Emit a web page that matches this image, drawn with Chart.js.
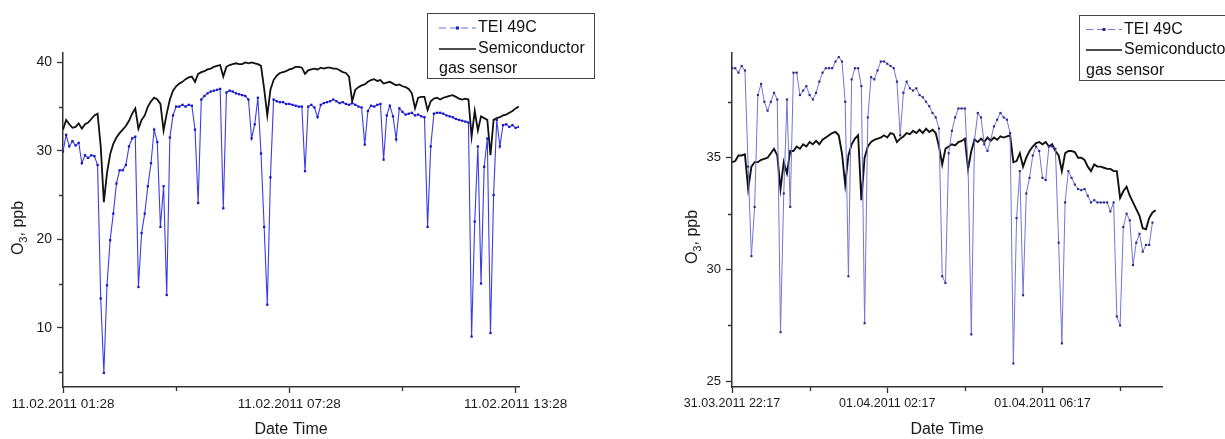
<!DOCTYPE html>
<html>
<head>
<script src="https://cdn.jsdelivr.net/npm/chart.js"></script>
<style>
  body { margin: 0; background: #fff; }
  .wrap { position: absolute; top: 0; }
</style>
</head>
<body>
<div class="wrap" style="left:0"><canvas id="left" width="620" height="439"></canvas></div>
<div class="wrap" style="left:620px"><canvas id="right" width="605" height="439"></canvas></div>
<script>
// readings every 5 minutes
const stepH = 5 / 60;

// 11.02.2011, start 01:28
const leftTei = [
  29.9, 31.8, 30.5, 31.1, 30.6, 30.9, 28.6, 29.5, 29.2, 29.5,
  29.4, 28.4, 13.3, 4.9, 14.8, 19.9, 22.9, 26.3, 27.8, 27.8,
  28.4, 30.5, 31.4, 31.6, 14.6, 20.7, 22.9, 26.0, 28.6, 32.4,
  31.0, 21.4, 26.0, 13.7, 31.5, 34.0, 35.0, 35.0, 35.2, 35.0,
  35.2, 35.1, 32.4, 24.1, 35.8, 36.2, 36.5, 36.7, 36.8, 36.9,
  37.0, 23.5, 36.6, 36.8, 36.7, 36.5, 36.4, 36.3, 36.2, 35.8,
  31.4, 33.0, 36.0, 29.7, 21.4, 12.6, 27.0, 35.8, 35.6, 35.5,
  35.5, 35.3, 35.3, 35.2, 35.1, 35.0, 35.0, 27.7, 35.0, 35.2,
  34.9, 33.8, 35.2, 35.4, 35.5, 35.6, 35.8, 35.6, 35.4, 35.5,
  35.3, 35.2, 35.4, 35.2, 35.0, 34.9, 30.7, 34.5, 35.1, 35.0,
  35.2, 35.3, 29.0, 34.0, 35.1, 33.9, 31.3, 34.8, 34.4, 34.1,
  34.2, 34.3, 34.0, 34.1, 33.9, 33.8, 21.4, 30.5, 34.2, 34.3,
  34.3, 34.2, 34.0, 33.9, 33.8, 33.6, 33.5, 33.4, 33.3, 33.2,
  9.0, 22.0, 30.5, 15.0, 28.2, 31.4, 9.4, 25.0, 33.5, 30.5,
  32.9, 33.0, 32.7, 32.9, 32.6, 32.7
];
const leftSemi = [
  32.4, 33.5, 33.0, 32.6, 32.7, 33.1, 32.5, 33.0, 33.2, 33.6,
  34.0, 34.2, 30.5, 24.2, 27.5, 29.6, 30.8, 31.5, 32.0, 32.4,
  32.8, 33.4, 34.2, 34.8, 32.5, 33.5, 34.0, 35.0, 35.6, 36.0,
  35.8, 35.3, 32.3, 34.2, 35.8, 36.8, 37.3, 37.6, 37.8, 38.1,
  38.3, 38.4, 37.8, 38.7, 38.9, 39.0, 39.2, 39.3, 39.5, 39.6,
  39.7, 38.4, 39.5, 39.7, 39.8, 39.9, 39.8, 39.8, 40.0, 39.9,
  40.0, 39.9, 39.8, 39.6, 37.0, 34.0, 36.9, 38.0, 38.5, 38.8,
  38.9, 39.0, 39.2, 39.3, 39.5, 39.5, 39.4, 38.7, 39.1, 39.2,
  39.3, 39.2, 39.4, 39.3, 39.4, 39.4, 39.3, 39.3, 39.1, 38.9,
  38.8, 38.4, 35.6, 36.9, 37.2, 37.4, 37.5, 37.8, 38.0, 38.1,
  37.9, 38.0, 37.6, 37.7, 37.8, 37.6, 37.4, 37.5, 37.3, 37.2,
  37.0, 36.5, 34.8, 36.0, 36.1, 36.1, 34.6, 35.6, 35.9, 36.0,
  35.8, 36.0, 36.1, 36.2, 36.3, 36.1, 35.9, 35.8, 35.9, 35.8,
  31.6, 34.5, 32.3, 33.9, 33.7, 33.5, 29.5, 33.5, 33.7, 33.8,
  34.0, 34.1, 34.3, 34.5, 34.8, 35.0
];

// 31.03.2011 22:17 onwards
const rightTei = [
  39.0, 39.0, 38.8, 39.1, 38.9, 34.6, 30.6, 32.8, 37.8, 38.3,
  37.5, 37.1, 37.5, 37.9, 37.6, 27.2, 33.4, 37.6, 32.8, 38.8,
  38.8, 37.8, 38.0, 38.2, 37.8, 37.6, 37.9, 38.4, 38.8, 39.0,
  39.0, 39.0, 39.3, 39.5, 39.3, 37.5, 29.7, 38.5, 39.0, 39.0,
  38.2, 27.6, 36.8, 38.6, 38.5, 38.9, 39.3, 39.3, 39.2, 39.1,
  39.0, 38.4, 36.0, 37.9, 38.4, 38.1, 38.0, 38.1, 37.8, 37.7,
  37.5, 37.3, 37.0, 36.8, 36.3, 29.7, 29.4, 35.2, 36.2, 36.8,
  37.2, 37.2, 37.2, 34.6, 27.1, 35.8, 37.0, 36.8, 35.6, 35.3,
  35.8, 36.4, 36.7, 37.0, 36.8, 36.7, 36.1, 25.8, 32.3, 34.4,
  28.85, 33.4, 34.1, 35.1, 35.5, 35.3, 34.1, 34.0, 35.5, 35.5,
  35.4, 31.2, 26.7, 33.0, 34.4, 34.1, 33.8, 33.6, 33.55, 33.6,
  33.3, 33.0, 33.1, 33.0, 33.0, 33.0, 33.0, 32.6, 33.0, 27.9,
  27.5, 31.9, 32.5, 32.2, 30.2, 31.2, 31.6, 30.8, 31.1, 31.1,
  32.1
];
const rightSemi = [
  34.8, 34.85, 35.1, 35.1, 35.15, 33.6, 34.6, 34.8, 34.8, 34.9,
  34.95, 35.0, 35.2, 35.4, 35.1, 33.6, 34.8, 34.3, 35.3, 35.3,
  35.5, 35.4, 35.6, 35.5, 35.7, 35.6, 35.75, 35.6, 35.8, 35.9,
  36.0, 36.1, 36.15, 36.0, 35.2, 33.8, 35.1, 35.6, 35.85, 36.0,
  33.1, 35.0, 35.5, 35.7, 35.8, 35.85, 35.9, 36.0, 35.9, 36.1,
  36.05, 35.7, 35.85, 35.95, 36.1, 36.05, 36.2, 36.1, 36.25, 36.1,
  36.3, 36.15, 36.25, 36.1, 35.5, 34.7, 35.4, 35.5, 35.6, 35.55,
  35.7, 35.75, 35.85, 34.5, 35.3, 35.8, 35.7, 35.85, 35.7, 35.9,
  35.75, 35.9, 35.8, 35.95, 35.9, 35.95, 36.0, 34.8, 34.85, 35.2,
  34.6, 35.0, 35.3, 35.5, 35.65, 35.7, 35.6, 35.7, 35.5, 35.6,
  35.3, 35.1, 34.4, 35.2, 35.3, 35.3, 35.25, 35.0, 35.0, 34.9,
  34.6, 34.4, 34.7, 34.6, 34.6, 34.55, 34.5, 34.5, 34.4, 34.4,
  33.2, 33.5, 33.7, 33.3, 33.0, 32.7, 32.4, 31.85, 31.8, 32.3,
  32.55, 32.65
];

const leftXTicks = [0, 3, 6, 9, 12];
const leftXLabels = ['11.02.2011 01:28', '', '11.02.2011 07:28', '', '11.02.2011 13:28'];
const leftYTicks = [5, 10, 15, 20, 25, 30, 35, 40];
const leftYLabels = ['', '10', '', '20', '', '30', '', '40'];

const rightXTicks = [0, 2, 4, 6, 8, 10];
const rightXLabels = ['31.03.2011 22:17', '', '01.04.2011 02:17', '', '01.04.2011 06:17', ''];
const rightYTicks = [25, 27.5, 30, 32.5, 35, 37.5];
const rightYLabels = ['25', '', '30', '', '35', ''];

const legendLabels = ['TEI 49C', 'Semiconductor', 'gas sensor'];
const FONT = '"Liberation Sans", Arial, sans-serif';

Chart.defaults.font.family = FONT;
Chart.defaults.color = '#1a1a1a';

// y title with subscript, short minor ticks, boxed legend
const decor = {
  id: 'decor',
  afterDraw(chart, args, o) {
    const ctx = chart.ctx;
    const xs = chart.scales.x, ys = chart.scales.y;
    const area = chart.chartArea;

    // minor ticks (unlabelled) are drawn shorter than the major ones
    ctx.save();
    ctx.strokeStyle = '#333';
    ctx.lineWidth = 1.3;
    ctx.beginPath();
    o.xTicks.forEach((v, i) => {
      if (o.xLabels[i]) return;
      const px = Math.round(xs.getPixelForValue(v)) + 0.5;
      ctx.moveTo(px, area.bottom);
      ctx.lineTo(px, area.bottom + 4);
    });
    o.yTicks.forEach((v, i) => {
      if (o.yLabels[i]) return;
      const py = Math.round(ys.getPixelForValue(v)) + 0.5;
      ctx.moveTo(area.left, py);
      ctx.lineTo(area.left - 4, py);
    });
    ctx.stroke();
    ctx.restore();

    ctx.save();
    ctx.fillStyle = '#1a1a1a';
    ctx.translate(o.tx, o.ty);
    ctx.rotate(-Math.PI / 2);
    ctx.textBaseline = 'alphabetic';
    ctx.font = '16px ' + FONT;
    const w1 = ctx.measureText('O').width;
    const w3 = ctx.measureText(', ppb').width;
    ctx.font = '11px ' + FONT;
    const w2 = ctx.measureText('3').width;
    let x = -(w1 + w2 + w3) / 2;
    ctx.font = '16px ' + FONT;
    ctx.fillText('O', x, 0);
    x += w1;
    ctx.font = '11px ' + FONT;
    ctx.fillText('3', x, 4);
    x += w2;
    ctx.font = '16px ' + FONT;
    ctx.fillText(', ppb', x, 0);
    ctx.restore();

    const lg = o.legend;
    ctx.save();
    ctx.fillStyle = '#fff';
    ctx.fillRect(lg.x, lg.y, lg.w, lg.h);
    ctx.strokeStyle = '#444';
    ctx.lineWidth = 1;
    ctx.strokeRect(lg.x + 0.5, lg.y + 0.5, lg.w, lg.h);

    ctx.strokeStyle = o.teiLine;
    ctx.setLineDash([7, 4]);
    ctx.beginPath();
    ctx.moveTo(lg.sx0, lg.rows[0]);
    ctx.lineTo(lg.sx1, lg.rows[0]);
    ctx.stroke();
    ctx.setLineDash([]);
    ctx.fillStyle = o.teiDot;
    const mid = (lg.sx0 + lg.sx1) / 2;
    ctx.fillRect(mid - 1.5, lg.rows[0] - 1.5, 3, 3);

    ctx.strokeStyle = '#111';
    ctx.lineWidth = 1.6;
    ctx.beginPath();
    ctx.moveTo(lg.sx0, lg.rows[1]);
    ctx.lineTo(lg.sx1, lg.rows[1]);
    ctx.stroke();

    ctx.fillStyle = '#111';
    ctx.font = '16px ' + FONT;
    ctx.textBaseline = 'middle';
    ctx.fillText(legendLabels[0], lg.sx1 + 2, lg.rows[0]);
    ctx.fillText(legendLabels[1], lg.sx1 + 2, lg.rows[1]);
    ctx.fillText(legendLabels[2], lg.sx0, lg.rows[2]);
    ctx.restore();
  }
};

function buildChart(id, c) {
  const grid = labels => ({
    drawOnChartArea: false, drawTicks: true, tickLength: 6, color: '#333', tickWidth: 1.3,
    tickColor: t => (labels[t.index] ? '#333' : 'rgba(0,0,0,0)')
  });
  const axisBorder = { display: true, color: '#333', width: 1.5 };
  return new Chart(document.getElementById(id), {
    type: 'line',
    data: {
      datasets: [
        {
          label: legendLabels[0],
          data: c.tei.map((v, i) => ({ x: i * stepH, y: v })),
          borderColor: c.teiLine,
          borderWidth: c.teiW,
          pointStyle: 'rect',
          pointRadius: c.pointR,
          pointBackgroundColor: c.teiDot,
          pointBorderWidth: 0,
          tension: 0
        },
        {
          label: legendLabels[1] + ' ' + legendLabels[2],
          data: c.semi.map((v, i) => ({ x: i * stepH, y: v })),
          borderColor: '#111',
          borderWidth: c.semiW,
          pointRadius: 0,
          tension: 0
        }
      ]
    },
    options: {
      responsive: false,
      animation: false,
      layout: { padding: { left: 0, top: c.padTop, right: c.padRight, bottom: 0 } },
      plugins: {
        legend: { display: false },
        tooltip: { enabled: false },
        decor: Object.assign({
          xTicks: c.xTicks, xLabels: c.xLabels, yTicks: c.yTicks, yLabels: c.yLabels
        }, c.decor)
      },
      scales: {
        x: {
          type: 'linear',
          min: 0,
          max: c.xMax,
          afterBuildTicks: s => { s.ticks = c.xTicks.map(v => ({ value: v })); },
          afterFit: s => { s.height = 52; },
          ticks: {
            callback: (v, i) => c.xLabels[i],
            autoSkip: false, maxRotation: 0, minRotation: 0,
            font: { size: c.tickSize }, padding: 3, color: '#1a1a1a'
          },
          grid: grid(c.xLabels),
          border: axisBorder,
          title: { display: true, text: 'Date Time', font: { size: 16 }, color: '#1a1a1a', padding: 0 }
        },
        y: {
          type: 'linear',
          min: c.yMin,
          max: c.yMax,
          afterBuildTicks: s => { s.ticks = c.yTicks.map(v => ({ value: v })); },
          afterFit: s => { s.width = c.yWidth; },
          ticks: {
            callback: (v, i) => c.yLabels[i],
            autoSkip: false,
            font: { size: c.yTickSize }, padding: 5, color: '#1a1a1a'
          },
          grid: grid(c.yLabels),
          border: axisBorder
        }
      }
    },
    plugins: [decor]
  });
}

buildChart('left', {
  tei: leftTei, semi: leftSemi,
  teiLine: '#3c3ce6', teiDot: '#1414cc', teiW: 1.1, pointR: 1.6, semiW: 1.8,
  xMax: 12.09, xTicks: leftXTicks, xLabels: leftXLabels,
  yMin: 3.3, yMax: 41.06, yTicks: leftYTicks, yLabels: leftYLabels,
  yWidth: 63, padTop: 53, padRight: 101, tickSize: 13.5, yTickSize: 14,
  decor: {
    tx: 23, ty: 228, teiLine: '#6a6ae0', teiDot: '#1a1ad0',
    legend: { x: 427, y: 13, w: 167, h: 65, sx0: 439, sx1: 476, rows: [28, 49, 69] }
  }
});

buildChart('right', {
  tei: rightTei, semi: rightSemi,
  teiLine: '#7474d8', teiDot: '#28288c', teiW: 1, pointR: 1.5, semiW: 1.9,
  xMax: 11.08, xTicks: rightXTicks, xLabels: rightXLabels,
  yMin: 24.75, yMax: 39.68, yTicks: rightYTicks, yLabels: rightYLabels,
  yWidth: 112, padTop: 53, padRight: 63, tickSize: 12.5, yTickSize: 13,
  decor: {
    tx: 77, ty: 237, teiLine: '#7474d8', teiDot: '#28288c',
    legend: { x: 459, y: 15, w: 200, h: 65, sx0: 466, sx1: 502, rows: [29.5, 50, 70.5] }
  }
});
</script>
</body>
</html>
